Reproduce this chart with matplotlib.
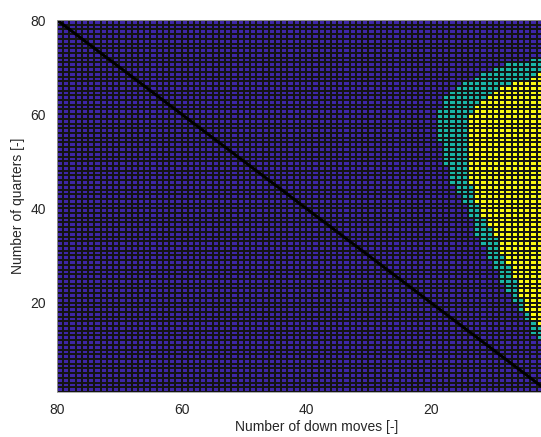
import numpy as np
import matplotlib.pyplot as plt
from matplotlib.colors import ListedColormap

plt.rcParams['font.family'] = ['Liberation Sans', 'DejaVu Sans']

# grid size (MATLAB pcolor style: 80 nodes -> 79 cells)
n = 80

# rows (number of quarters) that contain coloured cells
rows = list(range(12, 72))

# outer (teal) boundary: cells with down moves below this value are non-zero
teal_edge = [3, 4, 4, 4, 5, 5, 6, 6, 7, 7, 8, 8, 9, 9, 9, 10, 10, 11, 11, 11,
             12, 12, 13, 13, 13, 13, 14, 14, 14, 15, 15, 16, 16, 17, 17, 17, 17,
             18, 18, 18, 18, 18, 19, 19, 19, 19, 19, 19, 19, 18, 18, 18, 17, 16,
             15, 13, 12, 10, 8, 4]

# inner (yellow) boundary
yellow_edge = [0, 0, 0, 3, 4, 4, 5, 5, 5, 6, 6, 6, 6, 7, 7, 7, 8, 8, 9, 9,
               9, 9, 10, 10, 11, 11, 12, 12, 12, 13, 13, 13, 13, 14, 14, 14, 14,
               14, 14, 14, 14, 14, 14, 14, 14, 14, 14, 14, 13, 13, 12, 11, 10, 9,
               7, 4, 3, 0, 0, 0]

x_ticks = [20, 40, 60, 80]
y_ticks = [20, 40, 60, 80]

# build the level matrix: 0 = region A, 1 = region B, 2 = region C
C = np.zeros((n - 1, n - 1))
cols = np.arange(1, n)
for r, te, ye in zip(rows, teal_edge, yellow_edge):
    C[r - 1, cols + 1 <= te] = 1
    C[r - 1, cols + 1 <= ye] = 2

cmap = ListedColormap(['#3e26a8', '#19b5a8', '#f9f814'])

fig = plt.figure(figsize=(5.41, 4.37), dpi=100)
ax = fig.add_axes([57 / 541, (437 - 392) / 437, (549 - 57) / 541, (392 - 20) / 437])

edges = np.arange(1, n + 1)
ax.pcolormesh(edges, edges, C, cmap=cmap, vmin=0, vmax=2,
              edgecolors='#141414', linewidth=0.25)

# diagonal reference line
ax.plot([1, n], [1, n], color='black', linewidth=2.2)

ax.set_xlim(n, 1)
ax.set_ylim(1, n)
ax.set_xticks(x_ticks)
ax.set_yticks(y_ticks)
ax.tick_params(direction='in', length=0, labelsize=10, colors='#262626', pad=8)
for s in ax.spines.values():
    s.set_color('#a0a0a0')
    s.set_linewidth(0.6)

ax.set_xlabel('Number of down moves [-]', fontsize=10, color='#262626')
ax.set_ylabel('Number of quarters [-]', fontsize=10, color='#262626')
ax.xaxis.set_label_coords(0.528, -0.076)

fig.savefig('out.png', dpi=100)
